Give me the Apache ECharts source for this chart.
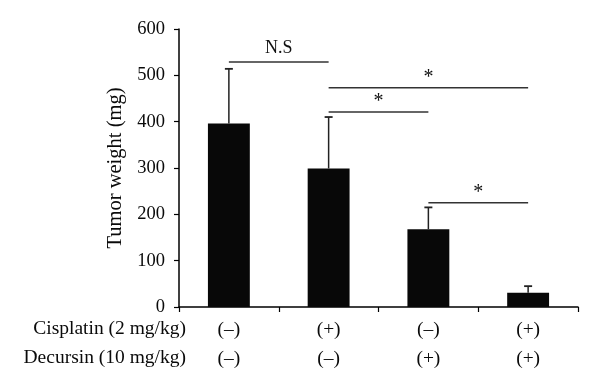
<!DOCTYPE html>
<html><head><meta charset="utf-8">
<script src="https://cdn.jsdelivr.net/npm/echarts@6/dist/echarts.min.js"></script>
<style>html,body{margin:0;padding:0;background:#fff}#c{width:600px;height:389px}</style>
</head><body><div id="c"></div>
<script>
const categories = ['0', '1', '2', '3'];
const cisplatin = ['(–)', '(+)', '(–)', '(+)'];
const decursin = ['(–)', '(–)', '(+)', '(+)'];
const rowLabels = ['Cisplatin (2 mg/kg)', 'Decursin (10 mg/kg)'];
const means = [396, 299, 168, 31];
const upperErr = [514, 410, 215, 45];
// [from index, to index, y value, label]
const sigFrom = [0, 1, 1, 2];
const sigTo = [1, 3, 2, 3];
const sigY = [529, 473, 421, 225];
const sigText = ['N.S', '*', '*', '*'];
const yTicks = [0, 100, 200, 300, 400, 500, 600];

const FONT = '"Liberation Serif", "DejaVu Serif", serif';
const chart = echarts.init(document.getElementById('c'));
const errData = means.map((m, i) => [i, m, upperErr[i]]);
const sigData = sigFrom.map((f, i) => [f, sigTo[i], sigY[i], i]);

chart.setOption({
  animation: false,
  grid: {left: 179, right: 22, top: 29, bottom: 82},
  xAxis: {
    type: 'category', data: categories,
    axisLine: {lineStyle: {color: '#000', width: 1.5}},
    axisTick: {show: true, length: 5, lineStyle: {color: '#000', width: 1.2}},
    axisLabel: {
      formatter: (v, i) => cisplatin[i] + '\n' + decursin[i],
      fontFamily: FONT, fontSize: 19.5, color: '#0a0a0a', lineHeight: 29, margin: 8
    }
  },
  yAxis: {
    type: 'value', min: yTicks[0], max: yTicks[yTicks.length - 1], interval: 100,
    name: 'Tumor weight (mg)', nameLocation: 'middle', nameGap: 53,
    nameTextStyle: {fontFamily: FONT, fontSize: 20.5, color: '#0a0a0a', padding: [0, 0, 0, 0]},
    axisLine: {show: true, lineStyle: {color: '#000', width: 1.5}},
    axisTick: {show: true, length: 5, lineStyle: {color: '#000', width: 1.2}},
    axisLabel: {fontFamily: FONT, fontSize: 18.5, color: '#0a0a0a', margin: 14},
    splitLine: {show: false}
  },
  graphic: [
    {type: 'text', right: 600 - 186, top: 319, style: {text: rowLabels[0], font: '19.5px ' + FONT, fill: '#0a0a0a', textAlign: 'right'}},
    {type: 'text', right: 600 - 186, top: 348, style: {text: rowLabels[1], font: '19.5px ' + FONT, fill: '#0a0a0a', textAlign: 'right'}}
  ],
  series: [
    {
      type: 'bar', data: means, barWidth: '42%',
      itemStyle: {color: '#080808'}, z: 2
    },
    {
      type: 'custom', data: errData, z: 3,
      renderItem: (params, api) => {
        const x = api.value(0);
        const b = api.coord([x, api.value(1)]);
        const t = api.coord([x, api.value(2)]);
        return {type: 'group', children: [
          {type: 'line', shape: {x1: b[0], y1: b[1], x2: t[0], y2: t[1]}, style: {stroke: '#222', lineWidth: 1.5}},
          {type: 'line', shape: {x1: t[0] - 4, y1: t[1], x2: t[0] + 4, y2: t[1]}, style: {stroke: '#222', lineWidth: 1.8}}
        ]};
      }
    },
    {
      type: 'custom', data: sigData, z: 4,
      renderItem: (params, api) => {
        const a = api.coord([api.value(0), api.value(2)]);
        const b = api.coord([api.value(1), api.value(2)]);
        const label = sigText[api.value(3)];
        const isStar = label === '*';
        return {type: 'group', children: [
          {type: 'line', shape: {x1: a[0], y1: a[1], x2: b[0], y2: b[1]}, style: {stroke: '#333', lineWidth: 1.5}},
          {type: 'text', x: (a[0] + b[0]) / 2, y: a[1] - (isStar ? 0 : 5),
           style: {text: label, font: (isStar ? '20px ' : '18px ') + FONT, fill: '#111', textAlign: 'center', textVerticalAlign: 'bottom'}}
        ]};
      }
    }
  ]
});
</script></body></html>
